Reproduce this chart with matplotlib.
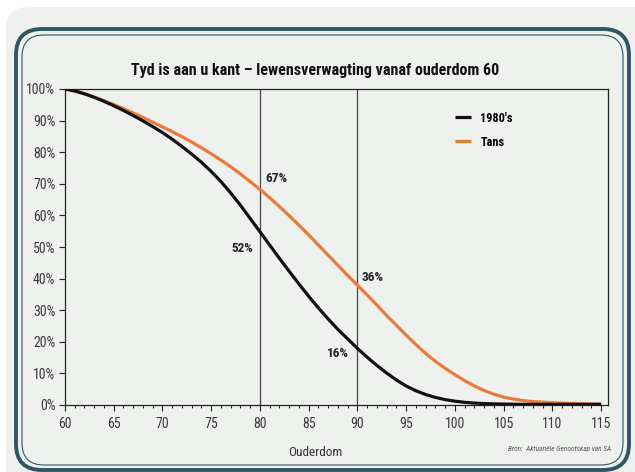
import matplotlib
matplotlib.use("Agg")
import matplotlib.pyplot as plt
from matplotlib.patches import FancyBboxPatch
from matplotlib.transforms import IdentityTransform
from matplotlib.ticker import MultipleLocator, PercentFormatter

# ouderdom 60 .. 115
ages = list(range(60, 116))

# 1980's oorlewing (%)
surv_1980 = [100.0, 99.4, 98.5, 97.4, 96.1, 94.7, 93.2, 91.6, 89.9, 88.1,
             86.2, 84.1, 81.8, 79.4, 76.8, 73.9, 70.7, 67.1, 63.2, 59.0,
             54.8, 50.6, 46.4, 42.3, 38.3, 34.4, 30.7, 27.2, 23.9, 20.9,
             17.9, 15.1, 12.5, 10.1, 7.9, 6.0, 4.5, 3.3, 2.4, 1.7,
             1.2, 0.85, 0.6, 0.45, 0.35, 0.3, 0.25, 0.2, 0.2, 0.2,
             0.2, 0.2, 0.2, 0.2, 0.2, 0.2]

# Tans oorlewing (%)
surv_tans = [100.0, 99.3, 98.4, 97.4, 96.3, 95.1, 93.8, 92.4, 91.0, 89.5,
             88.0, 86.5, 84.9, 83.2, 81.4, 79.5, 77.5, 75.4, 73.1, 70.7,
             68.2, 65.6, 62.8, 59.9, 56.9, 53.8, 50.6, 47.4, 44.2, 41.0,
             37.9, 34.8, 31.6, 28.3, 25.2, 22.1, 19.1, 16.3, 13.8, 11.6,
             9.6, 7.7, 6.0, 4.6, 3.4, 2.5, 1.9, 1.4, 1.1, 0.9,
             0.7, 0.6, 0.5, 0.4, 0.3, 0.3]

marks = [80, 90]
notes = [(80.6, 71.6, "67%", "left"), (79.3, 49.5, "52%", "right"),
         (90.4, 40.4, "36%", "left"), (89.1, 16.4, "16%", "right")]

NARROW = ["Roboto Condensed", "Barlow Condensed", "DejaVu Sans"]
BG = "#eff1ef"
FRAME = "#2f5661"
ORANGE = "#ea7a3c"

fig = plt.figure(figsize=(6.35, 4.72), dpi=100, facecolor="white")

# paneel agtergrond en raam (pixels)
fig.patches.append(FancyBboxPatch((6, -20), 660, 485, boxstyle="round,pad=0,rounding_size=22",
                                  transform=IdentityTransform(), facecolor=BG, edgecolor="none",
                                  figure=fig, zorder=0))
fig.patches.append(FancyBboxPatch((16, 2), 613, 441, boxstyle="round,pad=0,rounding_size=26",
                                  transform=IdentityTransform(), facecolor="none", edgecolor=FRAME,
                                  linewidth=2.8, figure=fig, zorder=1))
fig.patches.append(FancyBboxPatch((22, 7), 601, 430, boxstyle="round,pad=0,rounding_size=22",
                                  transform=IdentityTransform(), facecolor="none", edgecolor=FRAME,
                                  linewidth=0.8, figure=fig, zorder=1))

ax = fig.add_axes([65 / 635, 1 - 405 / 472, 543 / 635, 316 / 472])
ax.set_zorder(5)
ax.set_facecolor("none")

for m in marks:
    ax.axvline(m, color="#444444", linewidth=0.9, zorder=1)

ax.plot(ages, surv_tans, color=ORANGE, linewidth=2.3, label="Tans", zorder=3,
        solid_capstyle="butt")
ax.plot(ages, surv_1980, color="#111111", linewidth=2.3, label="1980's", zorder=4,
        solid_capstyle="butt")

ax.set_xlim(60, 115.7)
ax.set_ylim(0, 100)
ax.xaxis.set_major_locator(MultipleLocator(5))
ax.xaxis.set_minor_locator(MultipleLocator(1))
ax.yaxis.set_major_locator(MultipleLocator(10))
ax.yaxis.set_major_formatter(PercentFormatter(decimals=0))
ax.tick_params(axis="both", which="major", direction="out", length=4, width=0.8,
               colors="#222222", labelsize=10, pad=3)
ax.tick_params(axis="x", which="minor", direction="out", length=2.5, width=0.8, colors="#222222")
ax.tick_params(axis="x", which="major", pad=5)
for lab in ax.get_xticklabels() + ax.get_yticklabels():
    lab.set_family(NARROW)
    lab.set_color("#3a3a3a")
for s in ax.spines.values():
    s.set_color("#222222")
    s.set_linewidth(0.9)

for x, y, t, ha in notes:
    ax.text(x, y, t, ha=ha, va="center", fontsize=9.5, fontweight="bold",
            family=NARROW, color="#222222")

h, l = ax.get_legend_handles_labels()
leg = ax.legend(h[::-1], l[::-1], loc="upper right", bbox_to_anchor=(0.845, 0.963),
                frameon=False, handlelength=1.3, handletextpad=0.8, labelspacing=0.9,
                prop={"family": NARROW, "weight": "bold", "size": 8.8})

fig.text(0.496, 1 - 70 / 472, "Tyd is aan u kant \u2013 lewensverwagting vanaf ouderdom 60",
         ha="center", va="center", fontsize=11.5, fontweight="bold", family=NARROW, color="#111111")
fig.text(0.496, 1 - 452 / 472, "Ouderdom", ha="center", va="center", fontsize=9.5,
         family=NARROW, color="#333333")
fig.text(0.963, 1 - 449 / 472, "Bron:  Aktuari\u00eble Genootskap van SA", ha="right", va="center",
         fontsize=5.3, style="italic", family=NARROW, color="#555555")

fig.savefig("out.png", dpi=100, facecolor=fig.get_facecolor())
